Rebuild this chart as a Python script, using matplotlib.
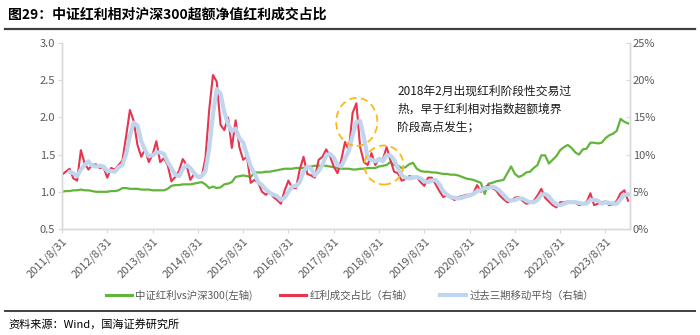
import numpy as np
import matplotlib
matplotlib.use("Agg")
import matplotlib.pyplot as plt
from matplotlib.patches import Ellipse
from matplotlib.lines import Line2D

plt.rcParams['font.family'] = ['Noto Sans CJK SC', 'DejaVu Sans']

# ---------------- data (monthly, 2011/8 .. 2024/2) ----------------
tick_labels = ["2011/8/31", "2012/8/31", "2013/8/31", "2014/8/31", "2015/8/31",
               "2016/8/31", "2017/8/31", "2018/8/31", "2019/8/31", "2020/8/31",
               "2021/8/31", "2022/8/31", "2023/8/31"]

# 中证红利 vs 沪深300 (left axis)
green = [1.00, 1.01, 1.01, 1.02, 1.02, 1.03, 1.02, 1.02, 1.01, 1.00,
         1.00, 1.00, 1.00, 1.01, 1.01, 1.02, 1.05, 1.05, 1.04, 1.04,
         1.04, 1.03, 1.03, 1.03, 1.02, 1.02, 1.02, 1.02, 1.04, 1.08,
         1.09, 1.09, 1.10, 1.10, 1.10, 1.11, 1.12, 1.13, 1.10, 1.05,
         1.07, 1.05, 1.06, 1.10, 1.11, 1.13, 1.20, 1.21, 1.22, 1.21,
         1.20, 1.26, 1.26, 1.26, 1.27, 1.27, 1.28, 1.29, 1.30, 1.31,
         1.31, 1.31, 1.32, 1.32, 1.32, 1.33, 1.34, 1.35, 1.35, 1.35,
         1.35, 1.34, 1.33, 1.32, 1.31, 1.31, 1.31, 1.30, 1.30, 1.31,
         1.31, 1.32, 1.32, 1.32, 1.34, 1.35, 1.36, 1.40, 1.36, 1.35,
         1.32, 1.33, 1.37, 1.39, 1.31, 1.28, 1.27, 1.27, 1.26, 1.26,
         1.25, 1.24, 1.24, 1.23, 1.23, 1.22, 1.20, 1.18, 1.17, 1.16,
         1.14, 1.12, 0.97, 1.11, 1.12, 1.14, 1.15, 1.16, 1.25, 1.34,
         1.24, 1.20, 1.22, 1.26, 1.27, 1.32, 1.36, 1.49, 1.49, 1.38,
         1.43, 1.48, 1.56, 1.60, 1.63, 1.59, 1.53, 1.50, 1.57, 1.58,
         1.66, 1.66, 1.65, 1.66, 1.72, 1.76, 1.78, 1.82, 1.98, 1.94,
         1.92]

# 红利成交占比 (right axis, %)
red = [7.3, 7.7, 8.1, 6.8, 6.5, 10.6, 8.8, 8.0, 8.6, 8.7,
       8.2, 8.3, 6.9, 8.2, 8.0, 8.6, 9.2, 12.5, 16.0, 14.5,
       11.3, 9.7, 10.7, 9.0, 10.0, 11.8, 9.0, 9.5, 8.6, 6.4,
       7.0, 7.8, 9.4, 8.6, 6.6, 7.4, 6.9, 7.0, 9.5, 16.0,
       20.7, 19.8, 14.0, 13.3, 15.0, 10.9, 14.6, 11.0, 9.3, 9.7,
       6.2, 6.6, 6.2, 5.0, 4.6, 5.0, 4.3, 3.9, 3.4, 5.2,
       6.5, 5.5, 5.5, 8.0, 9.7, 7.4, 7.2, 6.9, 9.3, 9.7,
       10.7, 9.8, 8.4, 7.5, 9.3, 11.7, 10.6, 15.6, 16.9, 11.0,
       9.0, 8.6, 10.2, 8.6, 9.5, 9.3, 11.0, 9.3, 7.7, 7.5,
       6.5, 6.7, 7.1, 7.0, 7.0, 6.3, 5.8, 6.9, 6.9, 6.0,
       5.1, 4.3, 4.5, 4.2, 3.9, 4.3, 4.4, 4.6, 4.6, 4.8,
       5.9, 5.0, 5.6, 5.9, 5.5, 5.2, 4.5, 4.0, 3.6, 3.8,
       4.2, 4.3, 3.8, 3.4, 3.5, 3.8, 4.5, 5.4, 4.2, 3.7,
       3.2, 2.9, 3.6, 3.6, 3.7, 3.6, 3.6, 3.2, 3.4, 3.6,
       4.8, 3.2, 3.4, 3.6, 3.7, 3.2, 3.3, 3.8, 4.8, 5.2,
       3.8]

# 过去三期移动平均 (right axis, %), starts at the 3rd month
blue = [7.7, 7.5, 7.1, 8.0, 8.6, 9.1, 8.5, 8.4,
        8.5, 8.4, 7.8, 7.8, 7.7, 8.3, 8.6, 10.1, 12.6, 14.3,
        13.9, 11.8, 10.6, 9.8, 9.9, 10.3, 10.3, 10.1, 9.0, 8.2,
        7.3, 7.1, 8.1, 8.6, 8.2, 7.5, 7.0, 7.1, 7.8, 10.8,
        15.4, 18.8, 18.2, 15.7, 14.1, 13.1, 13.5, 12.2, 11.6, 10.0,
        8.4, 7.5, 6.3, 5.9, 5.3, 4.9, 4.6, 4.4, 3.9, 4.2,
        5.0, 5.7, 5.8, 6.3, 7.7, 8.4, 8.1, 7.2, 7.8, 8.6,
        9.9, 10.1, 9.6, 8.6, 8.4, 9.5, 10.5, 12.6, 14.4, 14.5,
        12.3, 9.5, 9.3, 9.1, 9.4, 9.1, 9.9, 9.9, 9.3, 8.2,
        7.2, 6.9, 6.8, 6.9, 7.0, 6.8, 6.4, 6.3, 6.5, 6.6,
        6.0, 5.1, 4.6, 4.3, 4.2, 4.1, 4.2, 4.4, 4.5, 4.7,
        5.1, 5.2, 5.5, 5.5, 5.7, 5.5, 5.1, 4.6, 4.0, 3.8,
        3.9, 4.1, 4.1, 3.8, 3.6, 3.6, 3.9, 4.6, 4.7, 4.4,
        3.7, 3.3, 3.2, 3.4, 3.6, 3.6, 3.6, 3.5, 3.4, 3.4,
        3.9, 3.9, 3.8, 3.4, 3.6, 3.5, 3.4, 3.4, 4.0, 4.6,
        4.6]

left_ticks = [0.5, 1.0, 1.5, 2.0, 2.5, 3.0]
right_ticks = [0, 5, 10, 15, 20, 25]

legend_labels = ["中证红利vs沪深300(左轴)", "红利成交占比（右轴）", "过去三期移动平均（右轴）"]
title = "图29：中证红利相对沪深300超额净值红利成交占比"
note = "2018年2月出现红利阶段性交易过\n热，早于红利相对指数超额境界\n阶段高点发生；"
source = "资料来源：Wind，国海证券研究所"

# ---------------- styling ----------------
C_GREEN = "#63B43A"
C_RED = "#E5354F"
C_BLUE = "#C0D5EE"
C_TXT = "#595959"
C_AX = "#D9D9D9"

W, H = 700, 335
fig = plt.figure(figsize=(W / 100, H / 100), dpi=100)
ax = fig.add_axes([62 / W, 1 - 229 / H, 568 / W, 186 / H])
ax2 = ax.twinx()

x = np.arange(len(green))
xb = np.arange(len(red) - len(blue), len(red))

ax.plot(x, green, color=C_GREEN, lw=1.6, zorder=2)
ax2.plot(x, red, color=C_RED, lw=1.5, zorder=2)
ax2.plot(xb, blue, color=C_BLUE, lw=3.0, zorder=3, solid_capstyle='round',
         solid_joinstyle='round')

ax.set_xlim(0, 150.5)
ax.set_ylim(left_ticks[0], left_ticks[-1])
ax2.set_ylim(right_ticks[0], right_ticks[-1])

ax.set_yticks(left_ticks)
ax.set_yticklabels([f"{v:.1f}" for v in left_ticks])
ax2.set_yticks(right_ticks)
ax2.set_yticklabels([f"{v}%" for v in right_ticks])
ax.set_xticks(np.arange(0, 12 * len(tick_labels), 12))
ax.set_xticklabels(tick_labels, rotation=45, ha='right', rotation_mode='anchor')

for a in (ax, ax2):
    for s in a.spines.values():
        s.set_color(C_AX)
        s.set_linewidth(1.0)
    a.spines['top'].set_visible(False)
    a.tick_params(colors=C_AX, labelcolor=C_TXT, labelsize=8, length=3, width=0.8)
ax.tick_params(axis='y', pad=2)
ax2.tick_params(axis='y', pad=2, direction='in', length=3)
ax.tick_params(axis='x', pad=2, labelsize=8)

# Annotation circles (dashed orange), placed on the right-axis scale
for (cx, cy, w, h) in [(78.1, 14.4, 10.9, 6.45), (85.3, 8.6, 10.3, 5.24)]:
    ax2.add_patch(Ellipse((cx, cy), w, h, fill=False, ec="#FDB813", lw=1.3,
                          ls=(0, (4, 2.5)), zorder=6))

ax2.text(397 / W, 1 - 85 / H, note, transform=fig.transFigure, fontsize=8.5,
         color="#1a1a1a", va='top', ha='left', linespacing=1.45)

# Title and rules
fig.text(8 / W, 1 - 15 / H, title, fontsize=10, fontweight='bold', color='black',
         va='center', ha='left')
fig.add_artist(Line2D([5 / W, 695 / W], [1 - 29 / H, 1 - 29 / H],
                      color="#404040", lw=1.6, transform=fig.transFigure))
fig.add_artist(Line2D([5 / W, 695 / W], [1 - 311 / H, 1 - 311 / H],
                      color="#404040", lw=1.4, transform=fig.transFigure))
fig.text(8 / W, 1 - 324 / H, source, fontsize=8, color='black',
         va='center', ha='left')

# Legend
handles = [Line2D([], [], color=C_GREEN, lw=2.2),
           Line2D([], [], color=C_RED, lw=2.2),
           Line2D([], [], color=C_BLUE, lw=3.0)]
fig.legend(handles, legend_labels, loc='center', bbox_to_anchor=(0.5, 1 - 295 / H),
           ncol=3, frameon=False, fontsize=7.5, handlelength=2.5, handletextpad=0.3,
           columnspacing=2.6, labelcolor=C_TXT)

fig.savefig("out.png", dpi=100)
